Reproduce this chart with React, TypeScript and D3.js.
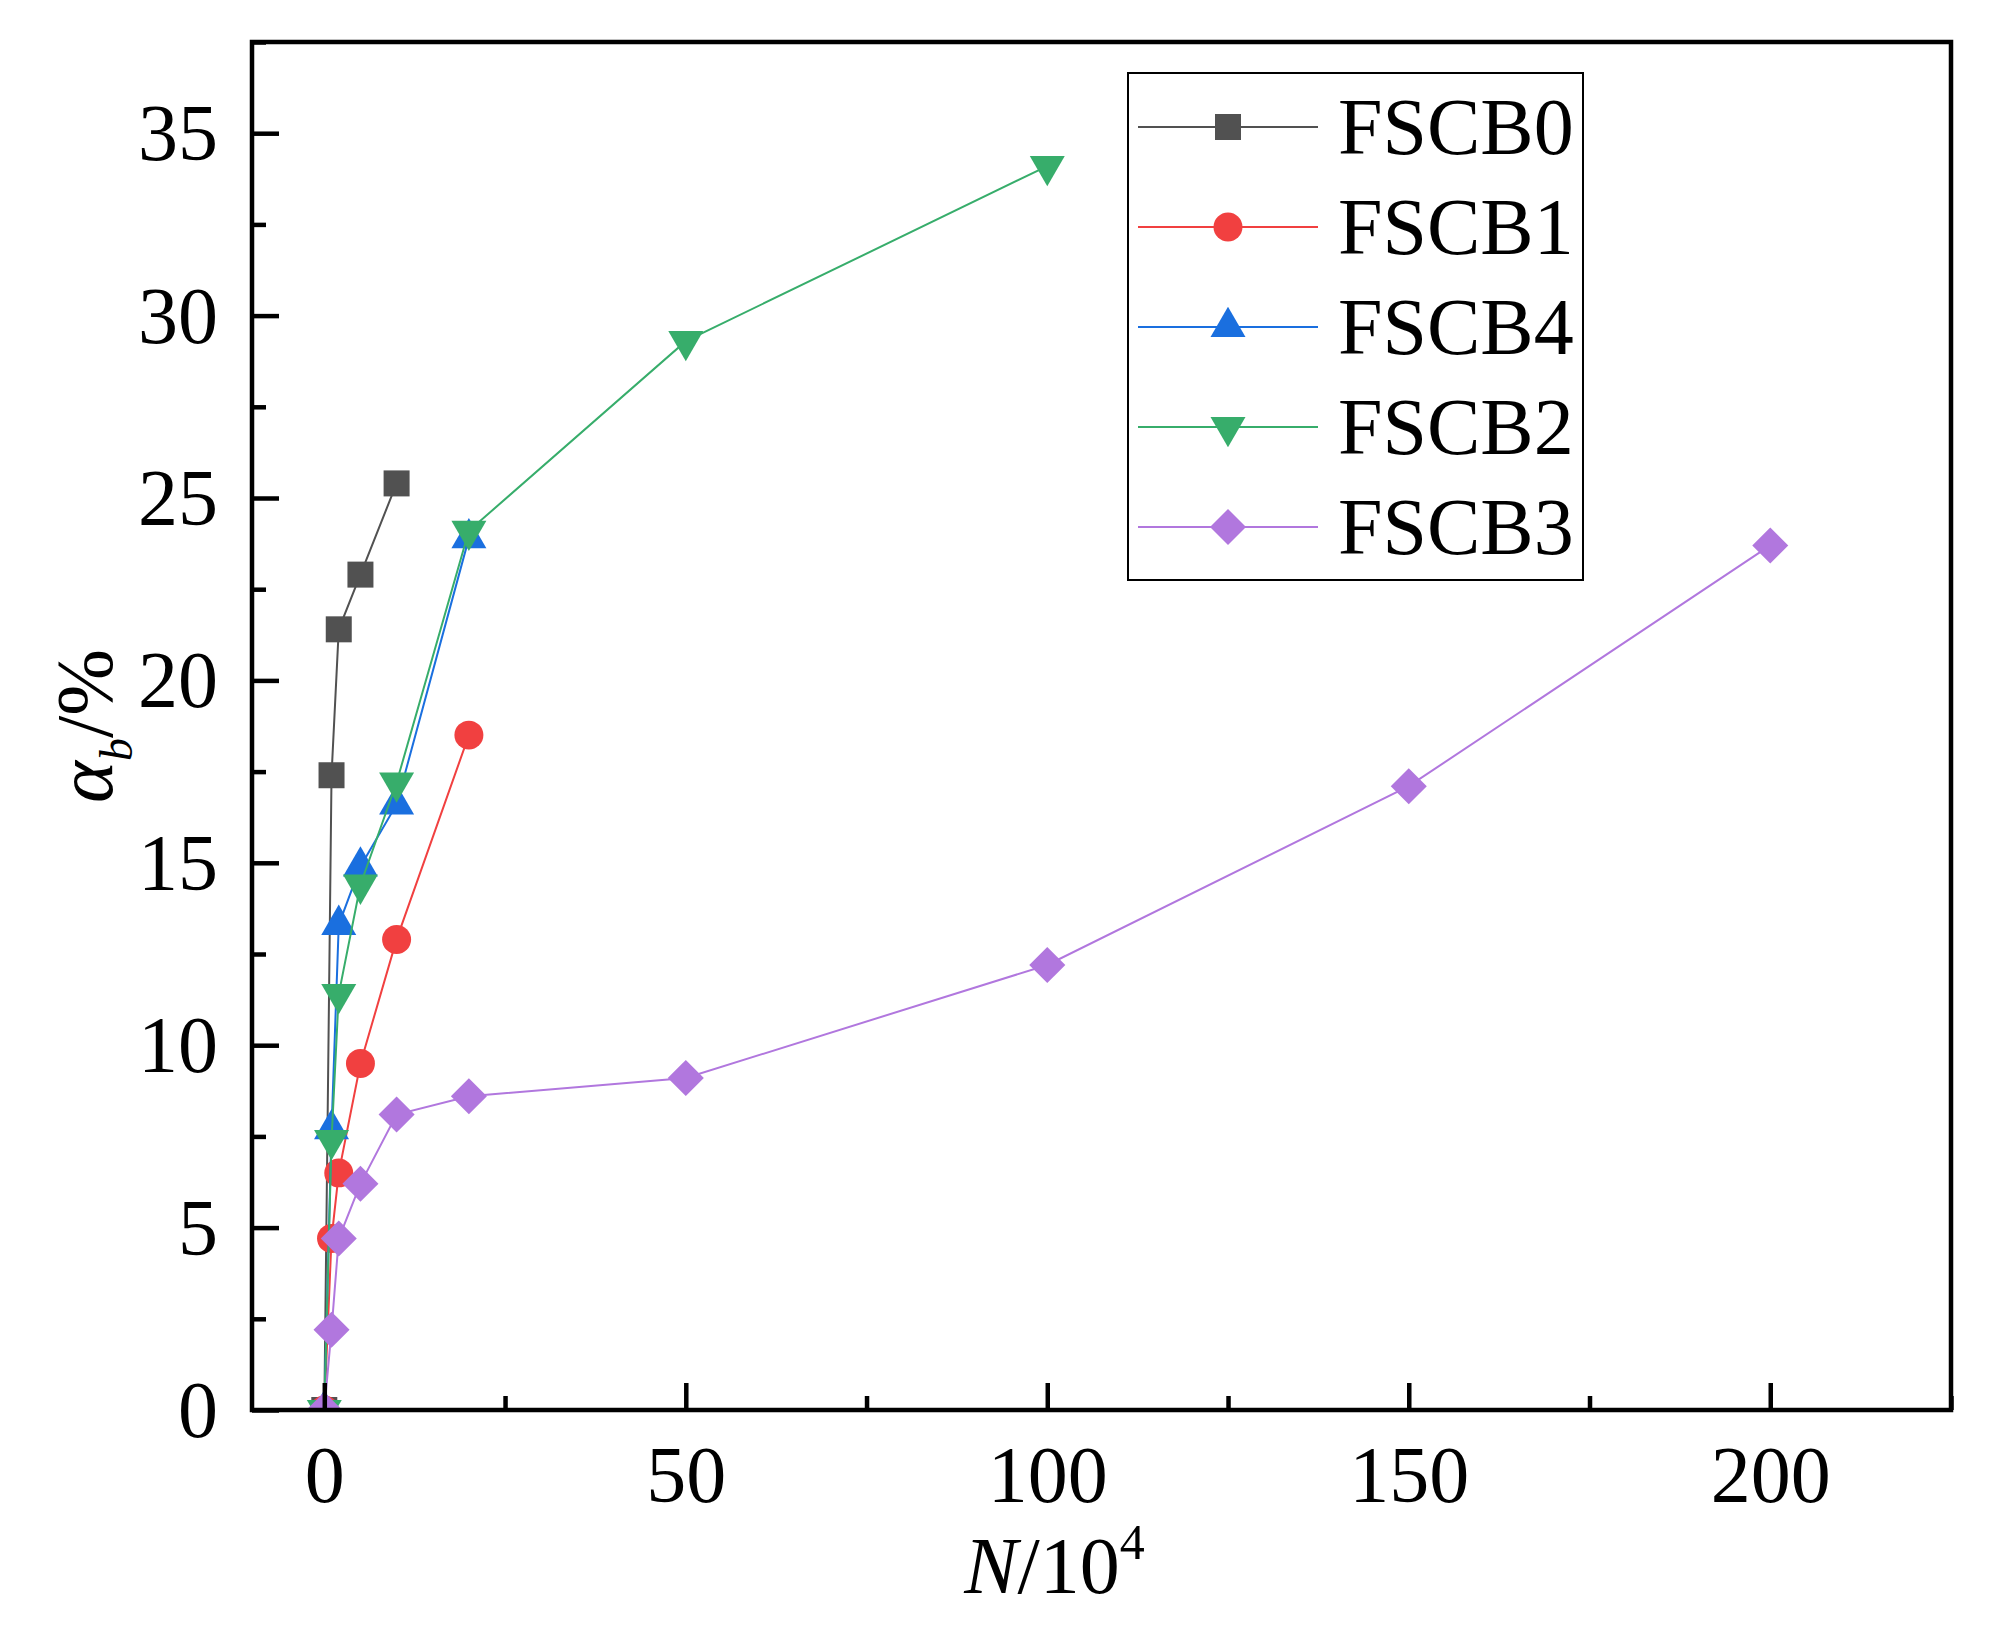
import React, { useRef, useEffect } from "react";
import * as d3 from "d3";

// cycles (x10^4) and damage values (%)
const cycles0 = [0, 1, 2, 5, 10];
const fscb0 = [0, 17.4, 21.4, 22.9, 25.4];

const cycles1 = [0, 1, 2, 5, 10, 20];
const fscb1 = [0, 4.7, 6.5, 9.5, 12.9, 18.5];

const cycles4 = [0, 1, 2, 5, 10, 20];
const fscb4 = [0, 7.7, 13.3, 14.9, 16.6, 23.9];

const cycles2 = [0, 1, 2, 5, 10, 20, 50, 100];
const fscb2 = [0, 7.4, 11.4, 14.4, 17.2, 24.1, 29.3, 34.1];

const cycles3 = [0, 1, 2, 5, 10, 20, 50, 100, 150, 200];
const fscb3 = [0, 2.2, 4.7, 6.2, 8.1, 8.6, 9.1, 12.2, 17.1, 23.7];

const seriesNames = ["FSCB0", "FSCB1", "FSCB4", "FSCB2", "FSCB3"];
const seriesColors = ["#515151", "#F14040", "#1A6FDF", "#37AD6B", "#B177DE"];
const seriesShapes = ["square", "circle", "triangleUp", "triangleDown", "diamond"];

const xMajorTicks = [0, 50, 100, 150, 200];
const xMinorTicks = [25, 75, 125, 175, 225];
const yMajorTicks = [0, 5, 10, 15, 20, 25, 30, 35];
const yMinorTicks = [2.5, 7.5, 12.5, 17.5, 22.5, 27.5, 32.5, 37.5];

const FONT = "'Liberation Serif', 'Times New Roman', serif";

function markerPath(shape: string): string {
  switch (shape) {
    case "square":
      return d3.symbol().type(d3.symbolSquare).size(676)()!;
    case "circle":
      return d3.symbol().type(d3.symbolCircle).size(660)()!;
    case "triangleUp":
    case "triangleDown":
      return d3.symbol().type(d3.symbolTriangle).size(530)()!;
    default:
      return d3.symbol().type(d3.symbolSquare).size(650)()!;
  }
}

function markerRotate(shape: string): number {
  if (shape === "triangleDown") return 180;
  if (shape === "diamond") return 45;
  return 0;
}

export default function App() {
  const svgRef = useRef<SVGSVGElement>(null);

  useEffect(() => {
    if (!svgRef.current) return;
    const svg = d3.select(svgRef.current);
    svg.selectAll("*").remove();

    const width = 2000;
    const height = 1641;
    const margin = { top: 42, right: 49, bottom: 231, left: 252 };
    const innerWidth = width - margin.left - margin.right;
    const innerHeight = height - margin.top - margin.bottom;

    const xScale = d3.scaleLinear().domain([-10, 225]).range([0, innerWidth]);
    const yScale = d3.scaleLinear().domain([0, 37.5]).range([innerHeight, 0]);

    const series = [
      { x: cycles0, y: fscb0 },
      { x: cycles1, y: fscb1 },
      { x: cycles4, y: fscb4 },
      { x: cycles2, y: fscb2 },
      { x: cycles3, y: fscb3 },
    ].map((s, i) => ({
      name: seriesNames[i],
      color: seriesColors[i],
      shape: seriesShapes[i],
      points: s.x.map((x, j) => ({ x, y: s.y[j] })),
    }));

    svg.append("rect").attr("width", width).attr("height", height).attr("fill", "#ffffff");

    const g = svg.append("g").attr("transform", `translate(${margin.left},${margin.top})`);

    g.append("clipPath")
      .attr("id", "plot-clip")
      .append("rect")
      .attr("width", innerWidth)
      .attr("height", innerHeight);

    const plot = g.append("g").attr("clip-path", "url(#plot-clip)");

    const line = d3
      .line<{ x: number; y: number }>()
      .x((d) => xScale(d.x))
      .y((d) => yScale(d.y));

    series.forEach((s) => {
      plot
        .append("path")
        .datum(s.points)
        .attr("fill", "none")
        .attr("stroke", s.color)
        .attr("stroke-width", 2)
        .attr("d", line);

      plot
        .selectAll(null)
        .data(s.points)
        .enter()
        .append("path")
        .attr("d", markerPath(s.shape))
        .attr("fill", s.color)
        .attr(
          "transform",
          (d) => `translate(${xScale(d.x)},${yScale(d.y)}) rotate(${markerRotate(s.shape)})`
        );
    });

    // Axes: ticks inward, major and minor
    const styleAxis = (sel: d3.Selection<SVGGElement, unknown, null, undefined>) => {
      sel.select(".domain").remove();
      sel.selectAll("line").attr("stroke", "#000").attr("stroke-width", 4.5);
      sel.selectAll("text")
        .attr("fill", "#000")
        .style("font-family", FONT)
        .style("font-size", "80px");
    };

    const xMajor = g
      .append("g")
      .attr("transform", `translate(0,${innerHeight})`)
      .call(d3.axisBottom(xScale).tickValues(xMajorTicks).tickSizeInner(-27).tickSizeOuter(0).tickFormat(d3.format("d")));
    styleAxis(xMajor);
    xMajor.selectAll("text").attr("y", 92).attr("dy", 0);

    const xMinor = g
      .append("g")
      .attr("transform", `translate(0,${innerHeight})`)
      .call(d3.axisBottom(xScale).tickValues(xMinorTicks).tickSizeInner(-14).tickSizeOuter(0).tickFormat(() => ""));
    styleAxis(xMinor);

    const yMajor = g
      .append("g")
      .call(d3.axisLeft(yScale).tickValues(yMajorTicks).tickSizeInner(-27).tickSizeOuter(0).tickFormat(d3.format("d")));
    styleAxis(yMajor);
    yMajor.selectAll("text").attr("x", -34).attr("dy", "0.33em");

    const yMinor = g
      .append("g")
      .call(d3.axisLeft(yScale).tickValues(yMinorTicks).tickSizeInner(-14).tickSizeOuter(0).tickFormat(() => ""));
    styleAxis(yMinor);

    // Frame
    g.append("rect")
      .attr("width", innerWidth)
      .attr("height", innerHeight)
      .attr("fill", "none")
      .attr("stroke", "#000")
      .attr("stroke-width", 4.5);

    // Axis labels
    const xLabel = g
      .append("text")
      .attr("x", innerWidth / 2 - 47)
      .attr("y", innerHeight + 183)
      .attr("text-anchor", "middle")
      .style("font-family", FONT)
      .style("font-size", "80px")
      .attr("fill", "#000");
    xLabel.append("tspan").style("font-style", "italic").text("N");
    xLabel.append("tspan").text("/10");
    xLabel.append("tspan").attr("dy", -34).style("font-size", "50px").text("4");

    const yLabel = g
      .append("text")
      .attr("transform", `translate(${112 - margin.left},${innerHeight / 2}) rotate(-90)`)
      .attr("text-anchor", "middle")
      .style("font-family", FONT)
      .style("font-size", "80px")
      .attr("fill", "#000");
    yLabel.append("tspan").style("font-style", "italic").text("α");
    yLabel.append("tspan").attr("dy", 20).style("font-style", "italic").style("font-size", "46px").text("b");
    yLabel.append("tspan").attr("dy", -20).text("/%");

    // Legend
    const legend = svg.append("g").attr("transform", "translate(1128,73)");
    legend
      .append("rect")
      .attr("width", 455)
      .attr("height", 507)
      .attr("fill", "#fff")
      .attr("stroke", "#000")
      .attr("stroke-width", 2);

    series.forEach((s, i) => {
      const y = 54 + i * 100;
      legend
        .append("line")
        .attr("x1", 10)
        .attr("x2", 190)
        .attr("y1", y)
        .attr("y2", y)
        .attr("stroke", s.color)
        .attr("stroke-width", 2);
      legend
        .append("path")
        .attr("d", markerPath(s.shape))
        .attr("fill", s.color)
        .attr("transform", `translate(100,${y}) rotate(${markerRotate(s.shape)})`);
      legend
        .append("text")
        .attr("x", 210)
        .attr("y", y + 27)
        .style("font-family", FONT)
        .style("font-size", "80px")
        .attr("fill", "#000")
        .text(s.name);
    });
  }, []);

  return (
    <svg
      ref={svgRef}
      width={2000}
      height={1641}
      style={{ position: "absolute", left: 0, top: 0, display: "block" }}
    />
  );
}
